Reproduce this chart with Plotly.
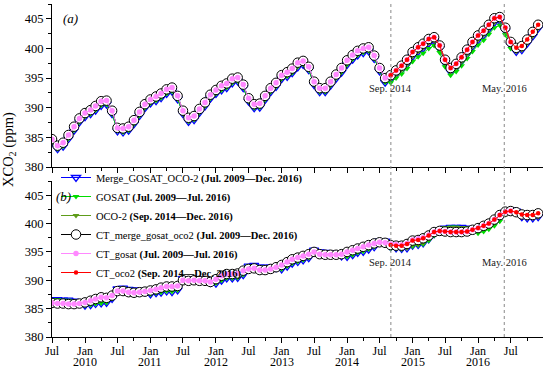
import plotly.graph_objects as go
import pandas as pd

# ---------------- data ----------------
months = pd.date_range("2009-07-01", "2016-12-01", freq="MS")  # Jul 2009 .. Dec 2016 (90)
months_gosat = months[:85]   # Jul 2009 .. Jul 2016
months_oco2 = months[62:]    # Sep 2014 .. Dec 2016

# panel (a)
gosat_obs_a = [384.2, 383.1, 383.5, 384.8, 386.2, 387.6,
               388.5, 389.0, 389.6, 390.4, 390.6, 389.0, 386.1, 385.9, 386.2, 387.3, 388.7, 390.0,
               390.8, 391.2, 391.7, 392.4, 392.8, 391.5, 389.0, 387.7, 388.0, 389.2, 390.3, 391.6,
               392.4, 393.0, 393.4, 394.2, 394.5, 393.4, 391.1, 390.0, 390.1, 391.4, 392.7, 393.6,
               394.9, 395.3, 395.9, 396.9, 397.3, 396.4, 393.9, 392.7, 392.7, 393.8, 395.0, 396.0,
               397.3, 398.2, 398.9, 399.3, 399.6, 398.3, 396.2, 394.3,
               394.2, 395.0, 395.7, 396.6,
               397.8, 398.6, 399.2, 400.0, 400.5, 399.3, 396.9, 395.5, 396.1, 397.1, 398.3, 399.5,
               400.6, 401.4, 402.4, 403.5, 403.9, 402.3, 400.0]
oco2_obs_a = [394.9, 395.7, 396.4, 397.4,
              398.7, 399.5, 400.1, 400.9, 401.3, 400.0, 397.6, 396.1, 396.8, 397.9, 399.1, 400.4,
              401.5, 402.3, 403.3, 404.4, 404.7, 403.0, 400.6, 399.5, 399.8, 400.9, 402.1, 403.4]
ct_gosat_a = [384.7, 383.6, 384.1, 385.4, 386.8, 388.2,
              389.1, 389.6, 390.3, 391.1, 391.2, 389.5, 386.6, 386.5, 386.8, 387.9, 389.3, 390.6,
              391.4, 391.9, 392.4, 393.1, 393.4, 392.0, 389.5, 388.3, 388.6, 389.8, 390.9, 392.2,
              393.0, 393.7, 394.1, 394.9, 395.1, 393.9, 391.6, 390.6, 390.7, 392.0, 393.3, 394.2,
              395.5, 396.0, 396.6, 397.6, 397.9, 396.9, 394.4, 393.3, 393.3, 394.4, 395.6, 396.7,
              398.0, 398.9, 399.6, 400.0, 400.2, 398.8, 396.7, 395.0,
              395.5, 396.3, 397.1, 398.1,
              399.4, 400.2, 400.8, 401.6, 401.9, 400.5, 398.1, 396.7, 397.4, 398.5, 399.8, 401.1,
              402.2, 403.0, 404.0, 405.1, 405.3, 403.5, 401.1]
ct_oco2_a = [395.5, 396.3, 397.1, 398.1,
             399.4, 400.2, 400.8, 401.6, 401.9, 400.5, 398.1, 396.7, 397.4, 398.5, 399.8, 401.1,
             402.2, 403.0, 404.0, 405.1, 405.3, 403.5, 401.1, 400.1, 400.4, 401.5, 402.8, 404.0]

# panel (b)
gosat_obs_b = [386.6, 386.6, 386.5, 386.5, 386.3, 386.0,
               385.6, 385.7, 385.9, 386.0, 386.1, 386.8, 388.5, 388.6, 388.4, 388.3, 388.2, 388.0,
               387.6, 387.8, 387.9, 388.1, 388.0, 388.3, 390.3, 390.3, 390.3, 390.2, 390.1, 389.6,
               389.5, 390.0, 390.4, 390.4, 390.5, 391.0, 392.5, 392.6, 392.3, 392.3, 392.3, 392.2,
               392.0, 392.5, 393.0, 393.3, 393.6, 394.0, 395.3, 395.0, 394.9, 394.8, 394.8, 394.3,
               394.2, 394.5, 394.9, 395.1, 395.5, 395.9, 396.9, 396.9,
               395.6, 395.6, 395.5, 395.9,
               396.0, 396.2, 396.4, 397.0, 397.9, 398.6, 399.3, 399.4, 399.4, 399.3, 399.3, 399.2,
               398.3, 398.6, 399.0, 399.6, 400.4, 401.6, 402.3]
oco2_obs_b = [395.9, 395.7, 395.6, 395.7,
              396.2, 396.3, 396.6, 397.3, 398.2, 398.8, 399.2, 399.3, 399.3, 399.3, 399.2, 399.1,
              399.0, 399.3, 399.6, 400.2, 401.0, 402.0, 402.4, 402.2, 401.2, 401.0, 401.0, 401.2]
ct_gosat_b = [386.0, 385.9, 385.9, 385.8, 385.8, 385.9,
              386.1, 386.4, 386.7, 387.0, 386.9, 387.3, 388.1, 388.1, 387.9, 387.8, 387.9, 388.0,
              388.2, 388.4, 388.7, 388.9, 388.9, 389.0, 390.0, 389.9, 390.0, 389.9, 389.9, 389.7,
              390.2, 390.8, 391.1, 391.1, 391.2, 391.7, 392.0, 392.1, 391.8, 391.8, 392.0, 392.3,
              392.7, 393.2, 393.7, 394.0, 394.3, 394.6, 395.0, 394.6, 394.5, 394.5, 394.5, 394.6,
              395.0, 395.3, 395.6, 395.9, 396.2, 396.5, 396.7, 396.6,
              396.4, 396.3, 396.2, 396.5,
              397.1, 397.3, 397.5, 398.0, 398.5, 398.7, 398.6, 398.5, 398.5, 398.5, 398.6, 398.9,
              399.2, 399.6, 400.0, 400.7, 401.5, 402.1, 402.2]
ct_oco2_b = [396.2, 396.1, 396.1, 396.4,
             397.0, 397.1, 397.4, 397.9, 398.5, 398.7, 398.6, 398.5, 398.5, 398.5, 398.6, 398.9,
             399.2, 399.6, 400.0, 400.7, 401.5, 402.1, 402.2, 402.0, 401.6, 401.5, 401.5, 401.8]

# merged products: GOSAT before Sep 2014, OCO-2 afterwards
merge_obs_a = gosat_obs_a[:62] + oco2_obs_a
merge_obs_b = gosat_obs_b[:62] + oco2_obs_b
ct_merge_a = ct_gosat_a[:62] + ct_oco2_a
ct_merge_b = ct_gosat_b[:62] + ct_oco2_b

tick_dates = ["2009-07-01", "2010-01-01", "2010-07-01", "2011-01-01", "2011-07-01",
              "2012-01-01", "2012-07-01", "2013-01-01", "2013-07-01", "2014-01-01",
              "2014-07-01", "2015-01-01", "2015-07-01", "2016-01-01", "2016-07-01"]
tick_text = ["Jul", "Jan", "Jul", "Jan", "Jul", "Jan", "Jul", "Jan", "Jul", "Jan",
             "Jul", "Jan", "Jul", "Jan", "Jul"]
minor_dates = ["2009-10-01", "2010-04-01", "2010-10-01", "2011-04-01", "2011-10-01",
               "2012-04-01", "2012-10-01", "2013-04-01", "2013-10-01", "2014-04-01",
               "2014-10-01", "2015-04-01", "2015-10-01", "2016-04-01", "2016-10-01"]
year_dates = ["2010-01-01", "2011-01-01", "2012-01-01", "2013-01-01", "2014-01-01",
              "2015-01-01", "2016-01-01"]
year_text = ["2010", "2011", "2012", "2013", "2014", "2015", "2016"]
event_dates = ["2014-09-02", "2016-05-26"]
event_text = ["Sep. 2014", "May. 2016"]

names = ["Merge_GOSAT_OCO-2 <b>(Jul. 2009\u2014Dec. 2016)</b>",
         "GOSAT <b>(Jul. 2009\u2014Jul. 2016)</b>",
         "OCO-2 <b>(Sep. 2014\u2014Dec. 2016)</b>",
         "CT_merge_gosat_oco2 <b>(Jul. 2009\u2014Dec. 2016)</b>",
         "CT_gosat <b>(Jul. 2009\u2014Jul. 2016)</b>",
         "CT_oco2 <b>(Sep. 2014\u2014Dec. 2016)</b>"]

# ---------------- styles ----------------
FONT = "Liberation Serif"
BLUE, GREEN, OLIVE, PINK, RED = "#0000FF", "#00DD00", "#5E9C1A", "#FF88FF", "#FF0000"
styles = [
    dict(line=dict(color=BLUE, width=1),
         marker=dict(symbol="triangle-down-open", size=8, color=BLUE, line=dict(width=1.3, color=BLUE))),
    dict(line=dict(color=GREEN, width=1),
         marker=dict(symbol="triangle-down", size=6, color=GREEN)),
    dict(line=dict(color=OLIVE, width=1),
         marker=dict(symbol="triangle-down", size=6, color=OLIVE)),
    dict(line=dict(color="black", width=1),
         marker=dict(symbol="circle", size=9.5, color="white", line=dict(width=1, color="black"))),
    dict(line=dict(color=PINK, width=1),
         marker=dict(symbol="circle", size=5.5, color=PINK)),
    dict(line=dict(color=RED, width=1),
         marker=dict(symbol="circle", size=4.5, color=RED)),
]

fig = go.Figure()
panels = [
    ("x", "y", [months, months_gosat, months_oco2, months, months_gosat, months_oco2],
     [merge_obs_a, gosat_obs_a, oco2_obs_a, ct_merge_a, ct_gosat_a, ct_oco2_a], True),
    ("x2", "y2", [months, months_gosat, months_oco2, months, months_gosat, months_oco2],
     [merge_obs_b, gosat_obs_b, oco2_obs_b, ct_merge_b, ct_gosat_b, ct_oco2_b], False),
]
for xa, ya, xs, ys, show in panels:
    for k in range(6):
        fig.add_trace(go.Scatter(x=xs[k], y=ys[k], mode="lines+markers", name=names[k],
                                 xaxis=xa, yaxis=ya, showlegend=show, **styles[k]))

L, R, T, B = 52, 7, 4, 33
W, H = 550, 370
ph = H - T - B
pw = W - L - R
def py(px):
    return (H - B - px) / ph
def pxx(px):
    return (px - L) / pw

xcommon = dict(type="date", range=["2009-07-01", "2016-12-28"], tickmode="array",
               tickvals=tick_dates, ticktext=tick_text, ticks="outside", ticklen=5,
               tickwidth=1, tickcolor="black", showline=True, linecolor="black", linewidth=1,
               showgrid=False, zeroline=False,
               minor=dict(tickmode="array", tickvals=minor_dates, ticks="outside", ticklen=3,
                          tickcolor="black", showgrid=False),
               tickfont=dict(family=FONT, size=12, color="black"))
ycommon = dict(range=[380, 407.5], tickmode="linear", tick0=380, dtick=5, ticks="outside",
               ticklen=5, tickwidth=1, tickcolor="black", showline=True, linecolor="black",
               linewidth=1, showgrid=False, zeroline=False,
               minor=dict(dtick=2.5, ticks="outside", ticklen=3, tickcolor="black", showgrid=False),
               tickfont=dict(family=FONT, size=12.5, color="black"))

fig.update_layout(
    width=W, height=H, margin=dict(l=L, r=R, t=T, b=B),
    paper_bgcolor="white", plot_bgcolor="white",
    font=dict(family=FONT, size=12, color="black"),
    xaxis=dict(xcommon, domain=[0, 1], anchor="y", showticklabels=False, matches="x2"),
    yaxis=dict(ycommon, domain=[py(167), 1], anchor="x"),
    xaxis2=dict(xcommon, domain=[0, 1], anchor="y2", ticklabelstandoff=-2),
    yaxis2=dict(ycommon, domain=[0, py(181)], anchor="x2"),
    legend=dict(x=pxx(56), y=py(163), xanchor="left", yanchor="top",
                bgcolor="rgba(0,0,0,0)", font=dict(family=FONT, size=10.5, color="black"),
                tracegroupgap=0, itemwidth=30),
    showlegend=True,
)

shapes = []
for d in event_dates:
    shapes.append(dict(type="line", xref="x", yref="paper", x0=d, x1=d, y0=0, y1=1,
                       line=dict(color="#888888", width=1, dash="3px,3px")))
fig.update_layout(shapes=shapes)

ann = []
for d, t in zip(event_dates, event_text):
    for yr in ("y", "y2"):
        ann.append(dict(x=d, y=393.2, xref="x", yref=yr, text=t, showarrow=False,
                        xanchor="center", yanchor="middle",
                        font=dict(family=FONT, size=10.5, color="#222222")))
for d, t in zip(year_dates, year_text):
    ann.append(dict(x=d, y=py(362.5), xref="x2", yref="paper", text=t, showarrow=False,
                    xanchor="center", yanchor="middle",
                    font=dict(family=FONT, size=12, color="black")))
ann.append(dict(x=pxx(70), y=py(19), xref="paper", yref="paper", text="<i>(a)</i>",
                showarrow=False, xanchor="center", yanchor="middle",
                font=dict(family=FONT, size=13, color="black")))
ann.append(dict(x=pxx(63.5), y=py(196), xref="paper", yref="paper", text="<i>(b)</i>",
                showarrow=False, xanchor="center", yanchor="middle",
                font=dict(family=FONT, size=13, color="black")))
ann.append(dict(x=pxx(9), y=py(150), xref="paper", yref="paper",
                text="XCO<sub>2</sub> (ppm)", textangle=-90, showarrow=False,
                xanchor="center", yanchor="middle",
                font=dict(family=FONT, size=14.5, color="black")))
fig.update_layout(annotations=ann)

fig.write_html("out.html", config={"displayModeBar": False},
               post_script="document.body.style.margin='0';")
